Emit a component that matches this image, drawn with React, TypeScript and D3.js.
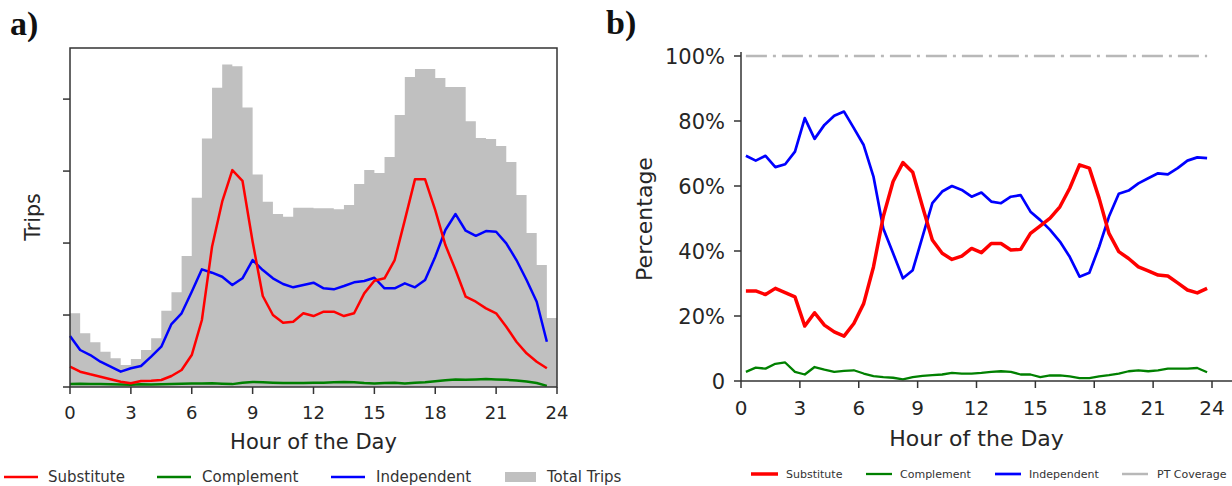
import React from "react";
import * as d3 from "d3";

// ---------- Data ----------
const hourTicks = [0, 3, 6, 9, 12, 15, 18, 21, 24];
const pctTicks = [0, 20, 40, 60, 80, 100];
const pctLabels = ["0", "20%", "40%", "60%", "80%", "100%"];
const tripTicks = [0, 1000, 2000, 3000, 4000];

// half-hour bins (left panel: points at bin start; right panel: bin centres)
const binStart = d3.range(48).map((i) => i * 0.5);
const binCenter = d3.range(48).map((i) => i * 0.5 + 0.25);

const totalTrips = [1024, 746, 621, 490, 399, 306, 389, 514, 676, 1060, 1315, 1819, 2629, 3454, 4157, 4482, 4458, 3885, 2954, 2574, 2403, 2365, 2490, 2490, 2482, 2482, 2468, 2528, 2819, 3014, 2972, 3194, 3778, 4306, 4417, 4417, 4292, 4167, 4167, 3694, 3458, 3444, 3347, 3125, 2667, 2139, 1694, 958];
const substituteTrips = [282, 213, 176, 143, 107, 74, 51, 83, 88, 97, 153, 236, 444, 931, 1949, 2574, 3014, 2865, 2018, 1264, 1000, 893, 907, 1024, 986, 1046, 1046, 986, 1024, 1301, 1476, 1510, 1764, 2319, 2885, 2885, 2458, 1972, 1625, 1254, 1185, 1093, 1024, 838, 629, 468, 351, 260];
const independentTrips = [708, 514, 444, 351, 282, 213, 260, 292, 421, 560, 875, 1024, 1324, 1635, 1588, 1532, 1417, 1510, 1764, 1625, 1510, 1431, 1385, 1417, 1449, 1371, 1357, 1403, 1454, 1472, 1518, 1371, 1371, 1440, 1385, 1486, 1810, 2181, 2403, 2171, 2101, 2167, 2157, 1996, 1764, 1486, 1185, 629];
const complementTrips = [40, 45, 40, 42, 38, 35, 30, 38, 35, 38, 40, 45, 50, 50, 52, 45, 40, 60, 70, 65, 60, 55, 55, 55, 58, 60, 65, 70, 65, 55, 50, 55, 60, 50, 60, 65, 80, 95, 105, 100, 105, 110, 105, 100, 90, 75, 55, 15];

const substitutePct = [27.7, 27.7, 26.6, 28.5, 27.2, 25.9, 16.9, 21.0, 17.2, 15.1, 13.8, 17.7, 23.8, 35.1, 50.6, 61.4, 67.2, 64.2, 53.6, 43.4, 39.3, 37.4, 38.4, 40.8, 39.5, 42.3, 42.3, 40.3, 40.5, 45.4, 47.7, 50.1, 53.6, 59.3, 66.5, 65.5, 56.2, 45.4, 39.8, 37.7, 35.1, 33.9, 32.6, 32.3, 30.2, 28.0, 27.1, 28.5];
const independentPct = [69.3, 67.8, 69.3, 65.8, 66.7, 70.6, 80.9, 74.5, 78.8, 81.6, 82.9, 77.8, 72.6, 62.9, 46.9, 39.3, 31.6, 34.1, 44.4, 54.7, 58.3, 60.0, 58.8, 56.7, 58.0, 55.2, 54.7, 56.7, 57.2, 52.1, 49.5, 46.5, 42.9, 38.2, 32.1, 33.3, 41.3, 50.6, 57.6, 58.6, 60.8, 62.4, 63.9, 63.6, 65.5, 67.8, 68.8, 68.6];
const complementPct = [2.8, 4.1, 3.8, 5.3, 5.7, 2.8, 2.0, 4.3, 3.5, 2.8, 3.1, 3.3, 2.3, 1.5, 1.2, 1.0, 0.5, 1.2, 1.6, 1.8, 2.0, 2.5, 2.3, 2.3, 2.5, 2.8, 3.0, 2.8, 2.0, 2.0, 1.2, 1.7, 1.7, 1.4, 0.9, 0.9, 1.4, 1.8, 2.3, 3.0, 3.3, 3.0, 3.3, 3.8, 3.8, 3.8, 4.0, 2.7];
const ptCoveragePct = [100, 100, 100, 100, 100, 100, 100, 100, 100, 100, 100, 100, 100, 100, 100, 100, 100, 100, 100, 100, 100, 100, 100, 100, 100, 100, 100, 100, 100, 100, 100, 100, 100, 100, 100, 100, 100, 100, 100, 100, 100, 100, 100, 100, 100, 100, 100, 100];

const leftLegend = ["Substitute", "Complement", "Independent", "Total Trips"];
const rightLegend = ["Substitute", "Complement", "Independent", "PT Coverage"];

// ---------- Styles ----------
const RED = "#ff0000";
const GREEN = "#008000";
const BLUE = "#0000ff";
const BAR = "#c0c0c0";
const PT = "#b8b8b8";
const TXT = "#262626";
const FONT = "DejaVu Sans, sans-serif";

export default function App() {
  // Left panel scales
  const xL = d3.scaleLinear().domain([0, 24]).range([70, 557]);
  const yL = d3.scaleLinear().domain([0, 4710]).range([387, 48]);
  // Right panel scales
  const xR = d3.scaleLinear().domain([0, 24]).range([741, 1212]);
  const yR = d3.scaleLinear().domain([0, 100]).range([381, 56]);

  const lineL = (vals: number[]) =>
    d3.line<number>().x((_, i) => xL(binStart[i])).y((d) => yL(d))(vals) || "";
  const lineR = (vals: number[]) =>
    d3.line<number>().x((_, i) => xR(binCenter[i])).y((d) => yR(d))(vals) || "";

  // histogram bars drawn as one step area (no seams between adjacent bins)
  const barPts: [number, number][] = totalTrips.map((v, i) => [binStart[i], v]);
  barPts.push([24, totalTrips[totalTrips.length - 1]]);
  const barPath =
    d3
      .area<[number, number]>()
      .curve(d3.curveStepAfter)
      .x((d) => xL(d[0]))
      .y0(yL(0))
      .y1((d) => yL(d[1]))(barPts) || "";

  return (
    <svg
      width={1232}
      height={486}
      style={{ position: "absolute", left: 0, top: 0, background: "#fff" }}
      fontFamily={FONT}
    >
      <defs>
        <clipPath id="leftClip">
          <rect x={0} y={0} width={622} height={486} />
        </clipPath>
      </defs>
      <rect x={0} y={0} width={1232} height={486} fill="#fff" />

      {/* Panel labels */}
      <text x={10} y={35} fontFamily="Liberation Serif, Times New Roman, serif" fontWeight="bold" fontSize={34} fill="#111">a)</text>
      <text x={606} y={34} fontFamily="Liberation Serif, Times New Roman, serif" fontWeight="bold" fontSize={34} fill="#111">b)</text>

      {/* ===== Left panel ===== */}
      <g>
        <path d={barPath} fill={BAR} stroke="none" />
        <path d={lineL(complementTrips)} fill="none" stroke={GREEN} strokeWidth={2.5} strokeLinejoin="round" />
        <path d={lineL(independentTrips)} fill="none" stroke={BLUE} strokeWidth={2.5} strokeLinejoin="round" />
        <path d={lineL(substituteTrips)} fill="none" stroke={RED} strokeWidth={2.5} strokeLinejoin="round" />
        <rect x={70} y={48} width={487} height={339} fill="none" stroke="#333" strokeWidth={1.5} />
        {tripTicks.map((t) => (
          <line key={t} x1={63} x2={70} y1={yL(t)} y2={yL(t)} stroke="#333" strokeWidth={1.5} />
        ))}
        {hourTicks.map((t) => (
          <g key={t}>
            <line x1={xL(t)} x2={xL(t)} y1={387} y2={394} stroke="#333" strokeWidth={1.5} />
            <text x={xL(t)} y={419} textAnchor="middle" fontSize={18} fill={TXT}>{t}</text>
          </g>
        ))}
        <text x={xL(12)} y={449} textAnchor="middle" fontSize={21} fill={TXT}>Hour of the Day</text>
        <text transform="translate(40,217) rotate(-90)" textAnchor="middle" fontSize={20.5} fill={TXT}>Trips</text>
      </g>

      {/* Left legend */}
      <g clipPath="url(#leftClip)" fontSize={15} fill="#333">
        <line x1={4} x2={38} y1={477} y2={477} stroke={RED} strokeWidth={2.5} />
        <text x={48} y={482}>{leftLegend[0]}</text>
        <line x1={157} x2={191} y1={477} y2={477} stroke={GREEN} strokeWidth={2.5} />
        <text x={202} y={482}>{leftLegend[1]}</text>
        <line x1={331} x2={365} y1={477} y2={477} stroke={BLUE} strokeWidth={2.5} />
        <text x={376} y={482}>{leftLegend[2]}</text>
        <rect x={505} y={472} width={31} height={10} fill={BAR} />
        <text x={547} y={482}>{leftLegend[3]}</text>
      </g>

      {/* ===== Right panel ===== */}
      <g>
        <path d={lineR(ptCoveragePct)} fill="none" stroke={PT} strokeWidth={2.5} strokeDasharray="21,6,3,6" />
        <path d={lineR(complementPct)} fill="none" stroke={GREEN} strokeWidth={2.3} strokeLinejoin="round" />
        <path d={lineR(independentPct)} fill="none" stroke={BLUE} strokeWidth={2.7} strokeLinejoin="round" />
        <path d={lineR(substitutePct)} fill="none" stroke={RED} strokeWidth={3.5} strokeLinejoin="round" />
        <line x1={741} x2={741} y1={52} y2={381} stroke="#333" strokeWidth={1.5} />
        <line x1={741} x2={1232} y1={381} y2={381} stroke="#333" strokeWidth={1.5} />
        {pctTicks.map((t, i) => (
          <g key={t}>
            <line x1={734} x2={741} y1={yR(t)} y2={yR(t)} stroke="#333" strokeWidth={1.5} />
            <text x={725} y={yR(t)} dy="0.36em" textAnchor="end" fontSize={21} fill={TXT}>{pctLabels[i]}</text>
          </g>
        ))}
        {hourTicks.map((t) => (
          <g key={t}>
            <line x1={xR(t)} x2={xR(t)} y1={381} y2={388} stroke="#333" strokeWidth={1.5} />
            <text x={xR(t)} y={415} textAnchor="middle" fontSize={20} fill={TXT}>{t}</text>
          </g>
        ))}
        <text x={xR(12)} y={446} textAnchor="middle" fontSize={22} fill={TXT}>Hour of the Day</text>
        <text transform="translate(652,219) rotate(-90)" textAnchor="middle" fontSize={22} fill={TXT}>Percentage</text>
      </g>

      {/* Right legend */}
      <g fontSize={11} fill="#333">
        <line x1={751} x2={778} y1={474} y2={474} stroke={RED} strokeWidth={3.5} />
        <text x={786} y={478}>{rightLegend[0]}</text>
        <line x1={866} x2={892} y1={474} y2={474} stroke={GREEN} strokeWidth={2.3} />
        <text x={900} y={478}>{rightLegend[1]}</text>
        <line x1={995} x2={1021} y1={474} y2={474} stroke={BLUE} strokeWidth={2.7} />
        <text x={1029} y={478}>{rightLegend[2]}</text>
        <line x1={1122} x2={1148} y1={474} y2={474} stroke={PT} strokeWidth={2.5} />
        <text x={1157} y={478}>{rightLegend[3]}</text>
      </g>
    </svg>
  );
}
